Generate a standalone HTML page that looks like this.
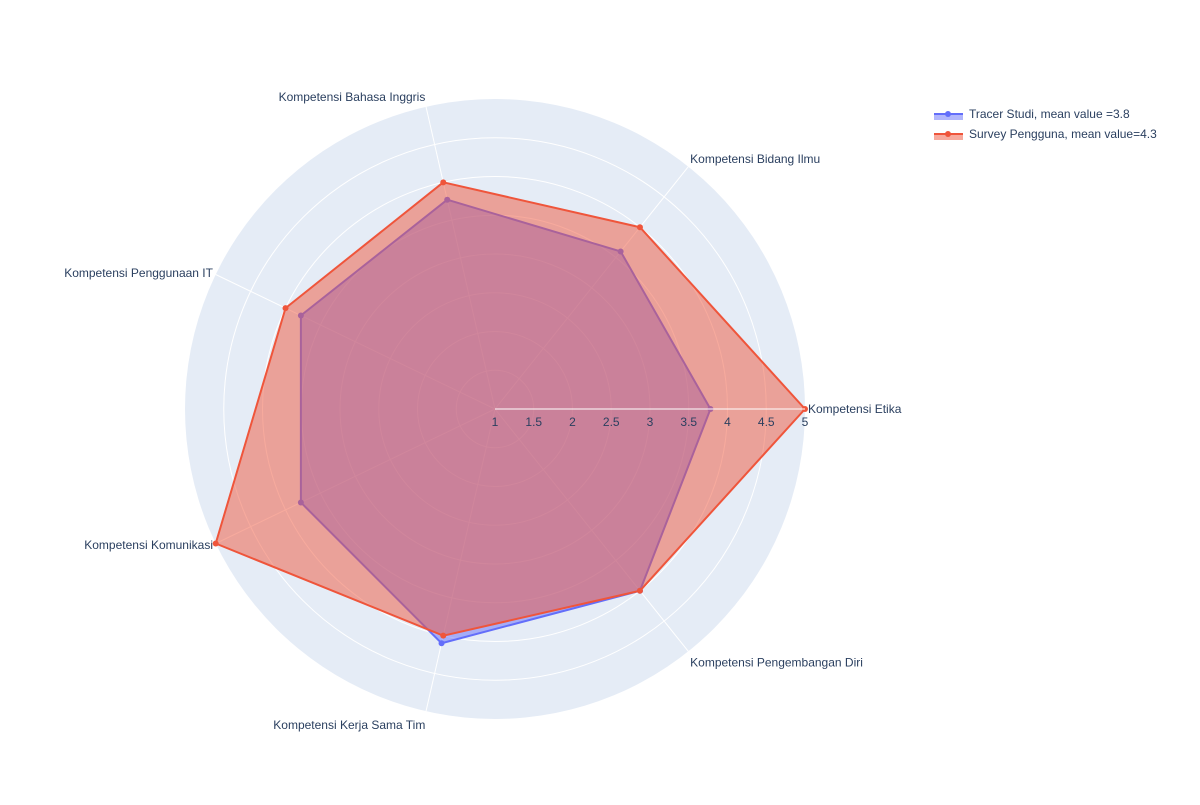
<!DOCTYPE html>
<html><head><meta charset="utf-8"><style>
body{margin:0;background:#fff;font-family:"Liberation Sans",Arial,sans-serif}
</style></head><body>
<svg id="chart" width="1200" height="800" xmlns="http://www.w3.org/2000/svg" font-family="'Liberation Sans',Arial,sans-serif">
</svg>
<script>
const categories=["Kompetensi Etika","Kompetensi Bidang Ilmu","Kompetensi Bahasa Inggris","Kompetensi Penggunaan IT","Kompetensi Komunikasi","Kompetensi Kerja Sama Tim","Kompetensi Pengembangan Diri"];
const tracerValues=[3.78,3.6,3.77,3.78,3.78,4.1,4.0];
const surveyValues=[5,4,4,4,5,4,4];
const radialTicks=[1,1.5,2,2.5,3,3.5,4,4.5,5];
const seriesNames=["Tracer Studi, mean value =3.8","Survey Pengguna, mean value=4.3"];

const NS="http://www.w3.org/2000/svg";
const svg=document.getElementById('chart');
const cx=495,cy=409,R=310,rmin=1,rmax=5;
function rScale(v){return (v-rmin)/(rmax-rmin)*R;}
function ang(i){return i*2*Math.PI/categories.length;}
function pt(i,v){const r=rScale(v),a=ang(i);return [cx+r*Math.cos(a),cy-r*Math.sin(a)];}
function mk(tag,attrs,parent){const e=document.createElementNS(NS,tag);for(const k in attrs)e.setAttribute(k,attrs[k]);(parent||svg).appendChild(e);return e;}

const bg=mk('circle',{cx:cx,cy:cy,r:R,fill:'#e5ecf6'});


radialTicks.forEach(t=>{if(t>rmin&&t<rmax){const c=mk('circle',{cx:cx,cy:cy,r:rScale(t),fill:'none',stroke:'#fff','stroke-width':1});

}});
categories.forEach((c,i)=>{const [x,y]=pt(i,rmax);const l=mk('line',{x1:cx,y1:cy,x2:x,y2:y,stroke:'#fff','stroke-width':1});

});

function series(vals,color,fillc,name){
  const g=mk('g',{});
  
  
  const pts=vals.map((v,i)=>pt(i,v));
  const p=mk('polygon',{points:pts.map(p=>p.join(',')).join(' '),fill:fillc,stroke:color,'stroke-width':2,'stroke-linejoin':'round'},g);
  
  
  pts.forEach(q=>{const c=mk('circle',{cx:q[0],cy:q[1],r:3,fill:color},g);
  
  });
}
series(tracerValues,'#636efa','rgba(99,110,250,0.5)','tracer-series');
series(surveyValues,'#EF553B','rgba(239,85,59,0.5)','survey-series');

const ax=mk('line',{x1:cx,y1:cy,x2:cx+R,y2:cy,stroke:'#fff','stroke-width':1});


radialTicks.forEach(t=>{const tx=mk('text',{x:cx+rScale(t),y:cy+17,'font-size':12,fill:'#2a3f5f','text-anchor':'middle'});tx.textContent=t;

});

categories.forEach((c,i)=>{const a=ang(i);const r=R+3;const x=cx+r*Math.cos(a),y=cy-r*Math.sin(a);
  const cs=Math.cos(a);let anchor=cs>0.01?'start':(cs<-0.01?'end':'middle');
  const sn=Math.sin(a);let dy=4+(sn>0.5?-7*sn:(sn<-0.5?11*(-sn):0));
  const tx=mk('text',{x:x,y:y+dy,'font-size':12,fill:'#2a3f5f','text-anchor':anchor});tx.textContent=c;
  
  });

const cols=[['#636efa','rgba(99,110,250,0.5)'],['#EF553B','rgba(239,85,59,0.5)']];
seriesNames.forEach((n,i)=>{const y=116+i*20;const g=mk('g',{});
  
  
  mk('rect',{x:934,y:y-3,width:29,height:7,fill:cols[i][1]},g);
  mk('line',{x1:934,y1:y-2,x2:963,y2:y-2,stroke:cols[i][0],'stroke-width':2},g);
  mk('circle',{cx:948,cy:y-2,r:3,fill:cols[i][0]},g);
  const t=mk('text',{x:969,y:y+2,'font-size':12,fill:'#2a3f5f'},g);t.textContent=n;});
</script>
</body></html>
